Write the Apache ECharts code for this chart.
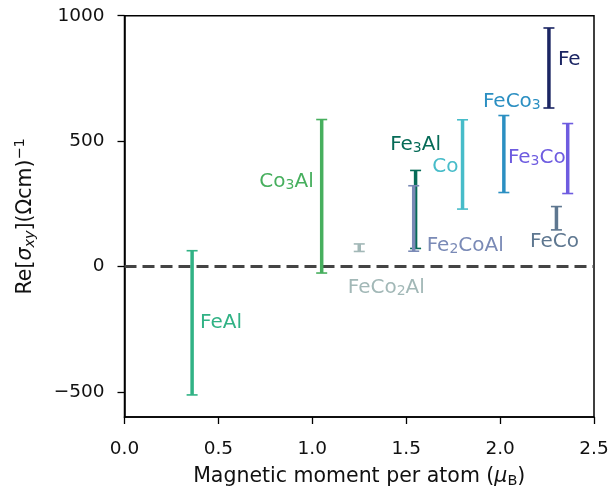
<!DOCTYPE html>
<html>
<head>
<meta charset="utf-8">
<script src="https://cdn.jsdelivr.net/npm/echarts@6/dist/echarts.min.js"></script>
<style>html,body{margin:0;padding:0;background:#fff}#c{width:612px;height:487px}</style>
</head>
<body>
<div id="c"></div>
<script>
// ---- data ----
const compounds = ['FeAl','Co3Al','FeCo2Al','Fe3Al','Fe2CoAl','Co','FeCo3','Fe','Fe3Co','FeCo'];
const moments   = [0.36, 1.05, 1.25, 1.55, 1.54, 1.80, 2.02, 2.26, 2.36, 2.30];
const sigmaLow  = [-512, -26, 60, 72, 61, 229, 295, 632, 291, 146];
const sigmaHigh = [63, 586, 90, 383, 322, 585, 602, 951, 570, 239];
const xTicks = [0, 0.5, 1.0, 1.5, 2.0, 2.5];
const yTicks = [-500, 0, 500, 1000];

// ---- styles / layout ----
const colors = {
  FeAl:'#31b285', Co3Al:'#47af5e', FeCo2Al:'#a2b8b7', Fe3Al:'#066b57', Fe2CoAl:'#7a8ab6',
  Co:'#47bcc9', FeCo3:'#2b8fc2', Fe:'#1b2563', Fe3Co:'#6e5ce0', FeCo:'#5e7790'
};
const richNames = {
  FeAl:'FeAl', Co3Al:'Co{s|3}Al', FeCo2Al:'FeCo{s|2}Al', Fe3Al:'Fe{s|3}Al', Fe2CoAl:'Fe{s|2}CoAl',
  Co:'Co', FeCo3:'FeCo{s|3}', Fe:'Fe', Fe3Co:'Fe{s|3}Co', FeCo:'FeCo'
};
// label anchor: dx in px from bar, y in data units, horizontal alignment
const labelLayout = {
  FeAl:{dx:8, y:-225, align:'left'},
  Co3Al:{dx:-8, y:338, align:'right'},
  FeCo2Al:{dx:27, y:-85, align:'center'},
  Fe3Al:{dx:0, y:486, align:'center'},
  Fe2CoAl:{dx:13, y:83, align:'left'},
  Co:{dx:-4, y:398, align:'right'},
  FeCo3:{dx:8, y:657, align:'center'},
  Fe:{dx:9, y:824, align:'left'},
  Fe3Co:{dx:-2, y:434, align:'right'},
  FeCo:{dx:-2, y:98, align:'center'}
};
const FONT = '"DejaVu Sans", sans-serif';
const TXT = '#111';

const data = compounds.map((n, i) => [moments[i], sigmaLow[i], sigmaHigh[i]]);

const chart = echarts.init(document.getElementById('c'), null, {renderer:'canvas'});
chart.setOption({
  animation:false,
  grid:{left:124.5, right:18, top:15.7, bottom:70, show:true, borderColor:'#000', borderWidth:1.5,
        containLabel:false, outerBoundsMode:'none'},
  xAxis:{
    type:'value', min:0, max:2.5, interval:0.5,
    name:'Magnetic moment per atom ({i|μ}{sub|B})', nameLocation:'middle', nameGap:48,
    nameTextStyle:{color:TXT, fontSize:20.5, fontFamily:FONT, verticalAlign:'top',
      rich:{i:{fontStyle:'italic', fontSize:20.5, fontFamily:FONT, color:TXT},
            sub:{fontSize:14.5, fontFamily:FONT, color:TXT, padding:[9,0,0,0]}}},
    axisLine:{show:true, onZero:false, lineStyle:{color:'#000', width:1.5}},
    axisTick:{show:true, inside:false, length:7, lineStyle:{color:'#000', width:1.3}},
    axisLabel:{color:TXT, fontSize:18.5, fontFamily:FONT, margin:23, formatter:v => v.toFixed(1)},
    splitLine:{show:false}
  },
  yAxis:{
    type:'value', min:-600, max:1000,
    name:'Re[{i|σ}{sub|xy}](Ωcm){sup|−1}', nameLocation:'middle', nameGap:86, nameRotate:90,
    nameTextStyle:{color:TXT, fontSize:20.5, fontFamily:FONT,
      rich:{i:{fontStyle:'italic', fontSize:20.5, fontFamily:FONT, color:TXT},
            sub:{fontStyle:'italic', fontSize:14.5, fontFamily:FONT, color:TXT, padding:[9,0,0,0]},
            sup:{fontSize:14.5, fontFamily:FONT, color:TXT, padding:[0,0,11,0]}}},
    axisLine:{show:true, onZero:false, lineStyle:{color:'#000', width:1.5}},
    axisTick:{show:true, inside:false, length:7, customValues:yTicks, lineStyle:{color:'#000', width:1.3}},
    axisLabel:{color:TXT, fontSize:18.5, fontFamily:FONT, margin:20, customValues:yTicks,
      formatter:v => (v < 0 ? '\u2212' + Math.abs(v) : String(v))},
    splitLine:{show:false}
  },
  series:[{
    type:'custom',
    coordinateSystem:'cartesian2d',
    data:data,
    encode:{x:0, y:[1,2]},
    markLine:{
      silent:true, symbol:'none', label:{show:false}, z:1,
      lineStyle:{color:'#444', width:2.8, type:[12,6]},
      data:[{yAxis:0}]
    },
    renderItem:function(params, api){
      const name = compounds[params.dataIndex];
      const col = colors[name];
      const x = api.value(0), lo = api.value(1), hi = api.value(2);
      const pHi = api.coord([x, hi]);
      const pLo = api.coord([x, lo]);
      const cw = 5.5;
      const lay = labelLayout[name];
      const pl = api.coord([x, lay.y]);
      return {
        type:'group',
        children:[
          {type:'line', shape:{x1:pHi[0], y1:pHi[1], x2:pLo[0], y2:pLo[1]}, style:{stroke:col, lineWidth:3.5}},
          {type:'line', shape:{x1:pHi[0]-cw, y1:pHi[1], x2:pHi[0]+cw, y2:pHi[1]}, style:{stroke:col, lineWidth:1.6}},
          {type:'line', shape:{x1:pLo[0]-cw, y1:pLo[1], x2:pLo[0]+cw, y2:pLo[1]}, style:{stroke:col, lineWidth:1.6}},
          {type:'text', x:pl[0]+lay.dx, y:pl[1], style:{
            text:richNames[name], fill:col, font:'20px ' + FONT, fontSize:20, fontFamily:FONT,
            align:lay.align, verticalAlign:'middle',
            rich:{s:{fontSize:14, fontFamily:FONT, fill:col, padding:[8,0,0,0]}}
          }}
        ]
      };
    }
  }]
});
</script>
</body>
</html>
